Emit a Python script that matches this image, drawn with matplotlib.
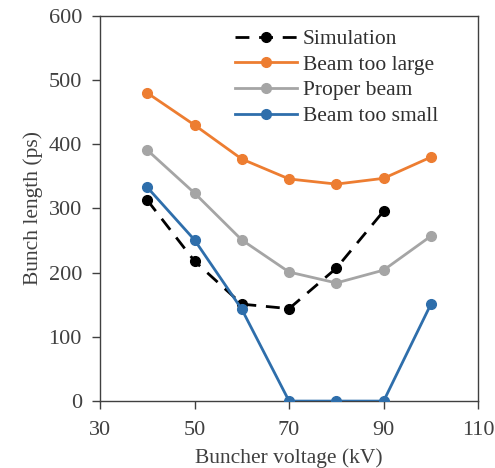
import matplotlib
matplotlib.use("Agg")
import matplotlib.pyplot as plt

voltage = [40, 50, 60, 70, 80, 90, 100]
sim_voltage = [40, 50, 60, 70, 80, 90]
simulation = [313, 218, 151, 144, 207, 296]
too_large = [480, 430, 377, 346, 338, 347, 380]
proper = [391, 324, 251, 201, 184, 204, 257]
too_small = [333, 251, 143, 0, 0, 0, 151]

plt.rcParams['font.family'] = ['Liberation Serif', 'DejaVu Serif']

fig = plt.figure(figsize=(4.95, 4.68), dpi=100)
ax = fig.add_axes([0.202, 0.143, 0.764, 0.823])

lw = 2.0
ms = 7
ax.plot(sim_voltage, simulation, color='black', lw=lw, ls=(0, (5, 3.5)), marker='o', ms=ms, label='Simulation', zorder=4)
ax.plot(voltage, too_large, color='#ED7D31', lw=lw, marker='o', ms=ms, label='Beam too large', zorder=3)
ax.plot(voltage, proper, color='#A5A5A5', lw=lw, marker='o', ms=ms, label='Proper beam', zorder=2)
ax.plot(voltage, too_small, color='#2E6EAB', lw=lw, marker='o', ms=ms, label='Beam too small', zorder=5)

ax.set_xlim(30, 110)
ax.set_ylim(0, 600)
ax.set_xticks([30, 50, 70, 90, 110])
ax.set_yticks([0, 100, 200, 300, 400, 500, 600])
ax.tick_params(direction='out', length=6, width=1, labelsize=16, colors='#404040', labelcolor='#404040')
ax.tick_params(axis='x', pad=8)
ax.tick_params(axis='y', pad=7)
for s in ax.spines.values():
    s.set_color('#404040')
    s.set_linewidth(1)

ax.set_xlabel('Buncher voltage (kV)', fontsize=15.5, color='#404040', labelpad=6)
ax.set_ylabel('Bunch length (ps)', fontsize=15.5, color='#404040', labelpad=4)

leg = ax.legend(loc='upper left', bbox_to_anchor=(0.357, 0.966), frameon=False, fontsize=15.5,
                handlelength=2.9, handletextpad=0.25, labelspacing=0.26, borderaxespad=0, borderpad=0)
for t in leg.get_texts():
    t.set_color('#303030')

fig.savefig('out.png', dpi=100)
